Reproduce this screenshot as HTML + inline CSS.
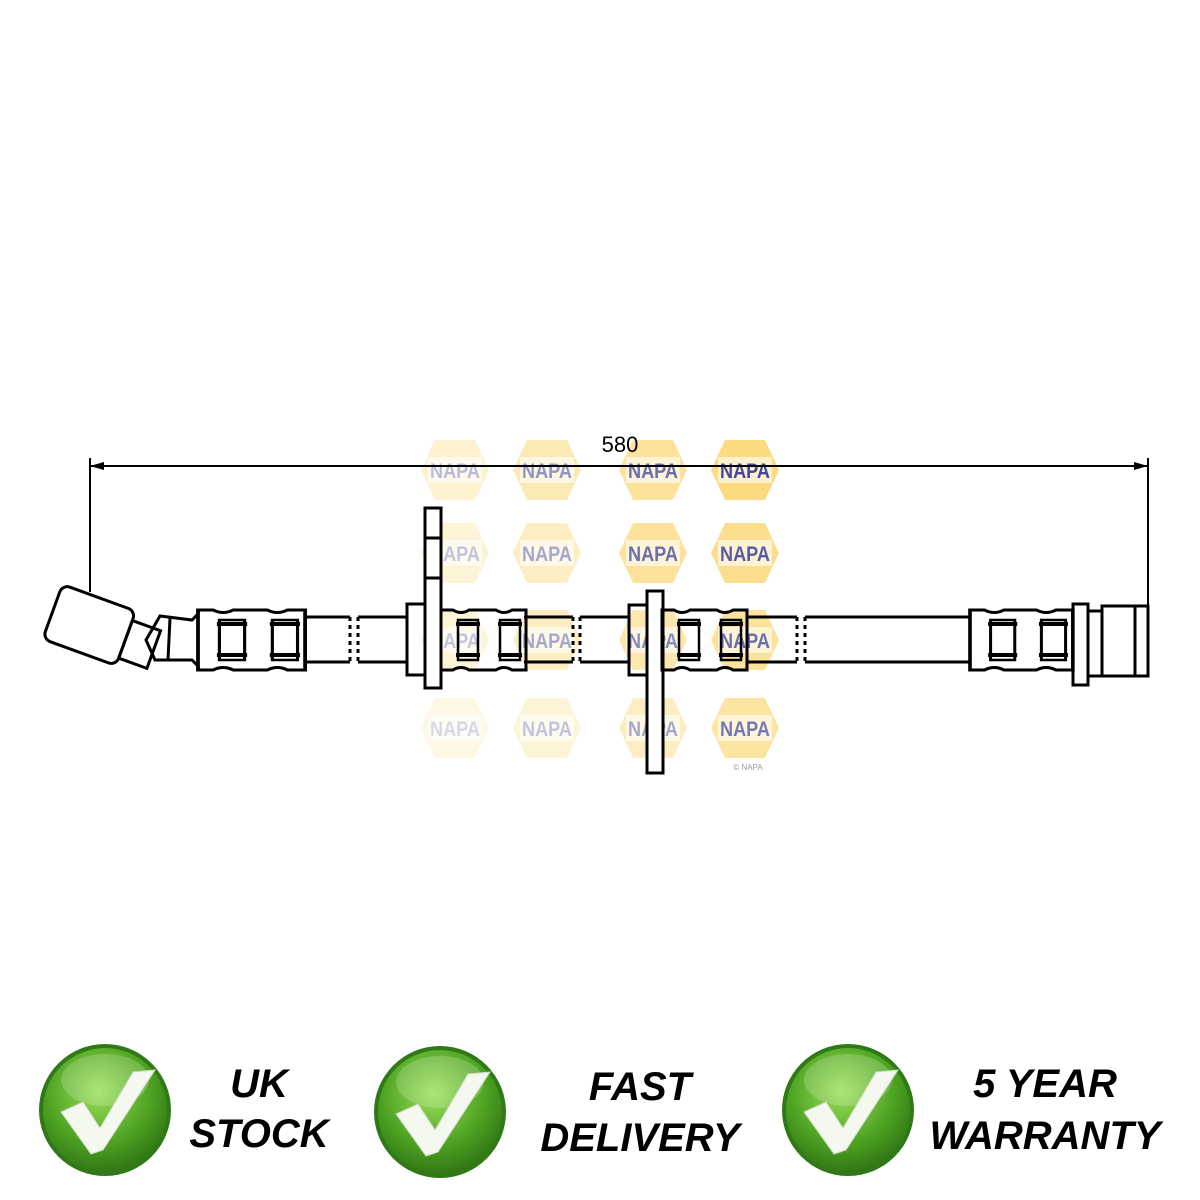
<!DOCTYPE html>
<html><head><meta charset="utf-8"><style>
html,body{margin:0;padding:0;background:#fff;}
svg{display:block}
.t{font-family:"Liberation Sans",sans-serif;font-weight:bold;font-style:italic;font-size:40px;fill:#000;text-anchor:middle}
.n{font-family:"Liberation Sans",sans-serif;font-weight:bold;font-size:21px;fill:#3a3f95;text-anchor:middle}
</style></head><body>
<svg width="1200" height="1200" viewBox="0 0 1200 1200" xmlns="http://www.w3.org/2000/svg">
<defs>
<g id="napa">
<polygon points="-20,-30 20,-30 34,0 20,30 -20,30 -34,0" fill="#fbd97a"/>
<rect x="-27" y="-13" width="54" height="26" fill="#fff" opacity="0.6"/>
<text class="n" x="0" y="8" textLength="50" lengthAdjust="spacingAndGlyphs">NAPA</text>
</g>
<radialGradient id="gg" cx="45%" cy="35%" r="70%">
<stop offset="0" stop-color="#9be05a"/><stop offset="0.6" stop-color="#4ea322"/><stop offset="1" stop-color="#2d6e12"/>
</radialGradient>
<g id="chk">
<circle r="66" fill="#2f7a16"/>
<circle r="62" fill="url(#gg)"/>
<ellipse cx="0" cy="-30" rx="44" ry="26" fill="#fff" opacity="0.18"/>
<path d="M-44,2 L-22,-8 L-5,18 L28,-38 L50,-40 L-2,40 L-14,44 Z" fill="#f4f8ee" stroke="#cfd9c4" stroke-width="1"/>
</g>
<g id="fer">
<path d="M0,-30 H12 Q20,-25 28,-30 H55 Q63,-25 71,-30 H85 V30 H71 Q63,25 55,30 H28 Q20,25 12,30 H0 Z" fill="none" stroke="#000" stroke-width="3"/>
<rect x="17" y="-20" width="20" height="40" fill="none" stroke="#000" stroke-width="2.5"/>
<rect x="15" y="-18" width="24" height="4" fill="#000"/><rect x="15" y="13" width="24" height="4" fill="#000"/>
<rect x="59" y="-20" width="20" height="40" fill="none" stroke="#000" stroke-width="2.5"/>
<rect x="57" y="-18" width="24" height="4" fill="#000"/><rect x="57" y="13" width="24" height="4" fill="#000"/>
</g>
</defs>

<g opacity="0.35"><use href="#napa" x="455" y="470"/></g>
<g opacity="0.55"><use href="#napa" x="547" y="470"/></g>
<g opacity="0.75"><use href="#napa" x="653" y="470"/></g>
<g opacity="0.95"><use href="#napa" x="745" y="470"/></g>
<g opacity="0.3"><use href="#napa" x="455" y="553"/></g>
<g opacity="0.45"><use href="#napa" x="547" y="553"/></g>
<g opacity="0.75"><use href="#napa" x="653" y="553"/></g>
<g opacity="0.85"><use href="#napa" x="745" y="553"/></g>
<g opacity="0.3"><use href="#napa" x="455" y="640"/></g>
<g opacity="0.45"><use href="#napa" x="547" y="640"/></g>
<g opacity="0.6"><use href="#napa" x="653" y="640"/></g>
<g opacity="0.75"><use href="#napa" x="745" y="640"/></g>
<g opacity="0.2"><use href="#napa" x="455" y="728"/></g>
<g opacity="0.3"><use href="#napa" x="547" y="728"/></g>
<g opacity="0.45"><use href="#napa" x="653" y="728"/></g>
<g opacity="0.7"><use href="#napa" x="745" y="728"/></g>
<text x="748" y="770" font-family="Liberation Sans,sans-serif" font-size="8" fill="#999" text-anchor="middle">© NAPA</text>

<g stroke="#000" stroke-width="2" fill="none">
<line x1="90" y1="458" x2="90" y2="592"/>
<line x1="1148" y1="458" x2="1148" y2="606"/>
<line x1="90" y1="466" x2="1148" y2="466"/>
</g>
<path d="M90,466 l14,-4 v8 z M1148,466 l-14,-4 v8 z" fill="#000"/>
<text x="620" y="452" font-family="Liberation Sans,sans-serif" font-size="22" text-anchor="middle">580</text>

<g stroke="#000" stroke-width="3" fill="none">
<g transform="rotate(20 90 620)">
<rect x="52" y="596" width="78" height="58" rx="8"/>
<rect x="130" y="606" width="30" height="40"/>
</g>
<path d="M146,640 L160,616 L192,620 L198,614 V666 L192,660 L155,660 Z"/>
<line x1="170" y1="618" x2="168" y2="660"/>
<path d="M305,617 H350 M305,662 H350 M358,617 H408 M358,662 H408"/>
<path d="M524,617 H573 M524,662 H573 M580,617 H628 M580,662 H628"/>
<path d="M746,617 H797 M746,662 H797 M805,617 H970 M805,662 H970"/>
<path d="M350,617 V662 M358,617 V662 M573,617 V662 M580,617 V662 M797,617 V662 M805,617 V662" stroke-dasharray="4 4"/>
<rect x="407" y="604" width="34" height="71"/>
<rect x="425" y="508" width="16" height="180" fill="#fff"/>
<line x1="425" y1="538" x2="441" y2="538"/><line x1="425" y1="578" x2="441" y2="578"/>
<rect x="629" y="605" width="34" height="70"/>
<rect x="647" y="591" width="16" height="182" fill="#fff"/>
<rect x="1073" y="604" width="15" height="81"/>
<rect x="1088" y="611" width="14" height="65"/>
<rect x="1102" y="606" width="46" height="70"/>
<line x1="1135" y1="606" x2="1135" y2="676"/>
</g>
<g transform="translate(198,640) scale(1.26,1)"><use href="#fer"/></g>
<use href="#fer" x="441" y="640"/>
<use href="#fer" x="662" y="640"/>
<g transform="translate(970,640) scale(1.21,1)"><use href="#fer"/></g>

<use href="#chk" x="105" y="1110"/>
<use href="#chk" x="440" y="1112"/>
<use href="#chk" x="848" y="1110"/>
<text class="t" x="259" y="1097">UK</text>
<text class="t" x="259" y="1147">STOCK</text>
<text class="t" x="640" y="1100">FAST</text>
<text class="t" x="640" y="1151">DELIVERY</text>
<text class="t" x="1045" y="1097">5 YEAR</text>
<text class="t" x="1045" y="1149">WARRANTY</text>
</svg>
</body></html>
